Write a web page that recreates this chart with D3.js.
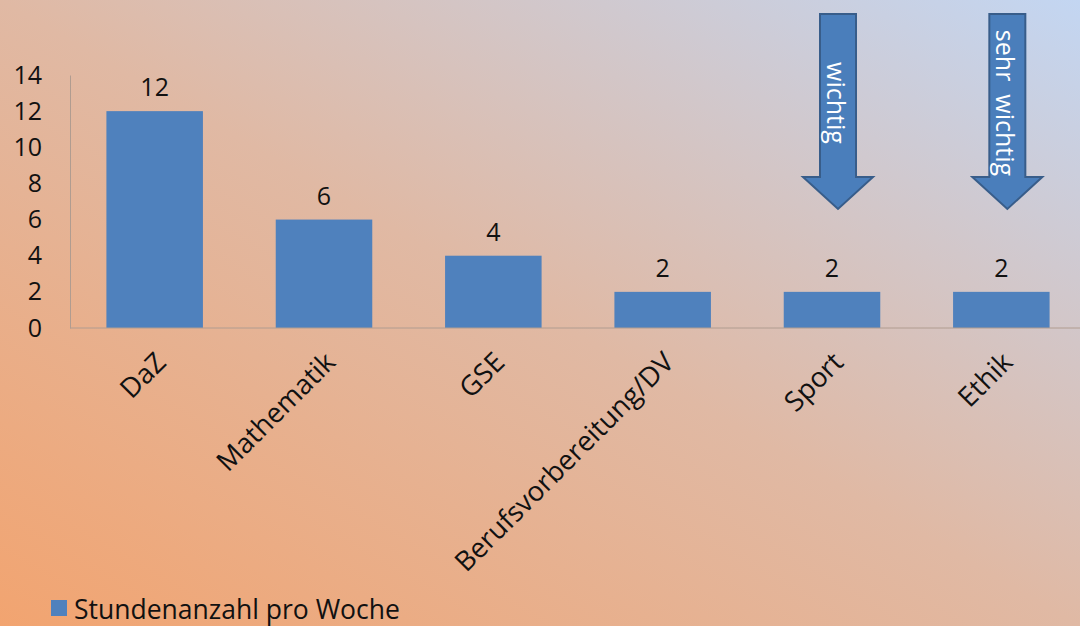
<!DOCTYPE html>
<html><head><meta charset="utf-8">
<script src="https://cdn.jsdelivr.net/npm/d3@7"></script>
<style>html,body{margin:0;padding:0;overflow:hidden}svg{display:block}</style>
</head><body>
<svg id="c" width="1080" height="626"></svg>
<script>
const categories = ["DaZ","Mathematik","GSE","Berufsvorbereitung/DV","Sport","Ethik"];
const values = [12,6,4,2,2,2];
const yTicks = [0,2,4,6,8,10,12,14];
const seriesName = "Stundenanzahl pro Woche";
const arrowNotes = [{cat:"Sport", text:"wichtig"},{cat:"Ethik", text:"sehr  wichtig"}];

const W=1080,H=626;
const svg=d3.select("#c");
const defs=svg.append("defs");
const g=defs.append("linearGradient").attr("id","bg").attr("x1","0").attr("y1","1").attr("x2","1").attr("y2","0");
g.append("stop").attr("offset","0").attr("stop-color","#f2a470");
g.append("stop").attr("offset","0.5").attr("stop-color","#e0b9a4");
g.append("stop").attr("offset","1").attr("stop-color","#c3d6f2");
svg.append("rect").attr("width",W).attr("height",H).attr("fill","url(#bg)");

const font="'Open Sans', sans-serif";
const x=d3.scaleBand().domain(categories).range([70,1086]).paddingInner(0.43).paddingOuter(0.215);
const y=d3.scaleLinear().domain([0,14]).range([328,75]);

const ya=svg.append("g").attr("transform","translate(70,0)").call(d3.axisLeft(y).tickValues(yTicks).tickSize(0).tickPadding(28));
ya.select(".domain").attr("stroke","#b09c90");
ya.selectAll("text").attr("font-family",font).attr("font-size",25).attr("fill","#111");

svg.selectAll("rect.bar").data(values).join("rect").attr("class","bar")
  .attr("x",(d,i)=>x(categories[i])).attr("width",x.bandwidth())
  .attr("y",d=>y(d)).attr("height",d=>y(0)-y(d)).attr("fill","#4f81bd");

const xa=svg.append("g").attr("transform","translate(0,328)").call(d3.axisBottom(x).tickSize(0).tickPadding(0));
xa.select(".domain").attr("stroke","#b09c90").attr("d","M70,0H1080");
xa.selectAll("text").attr("font-family",font).attr("font-size",27.5).attr("fill","#111")
  .attr("text-anchor","end").attr("dy",null).attr("y",0)
  .attr("transform","translate(13,36) rotate(-45)");

svg.selectAll("text.val").data(values).join("text").attr("class","val")
  .attr("x",(d,i)=>x(categories[i])+x.bandwidth()/2).attr("y",d=>y(d)-15)
  .attr("text-anchor","middle").attr("font-family",font).attr("font-size",25).attr("fill","#111")
  .text(d=>d);

arrowNotes.forEach(a=>{
  const cx=x(a.cat)+x.bandwidth()/2+6;
  const sw=18, hw=35, top=14, neck=177, tip=209;
  svg.append("path").attr("d",`M${cx-sw},${top}H${cx+sw}V${neck}H${cx+hw}L${cx},${tip}L${cx-hw},${neck}H${cx-sw}Z`)
    .attr("fill","#4a7ebb").attr("stroke","#385d8a").attr("stroke-width",2);
  svg.append("text").attr("transform",`translate(${cx-11},103) rotate(90)`)
    .attr("text-anchor","middle")
    .attr("font-family",font).attr("font-size",25).attr("fill","#fff")
    .style("white-space","pre").text(a.text);
});

svg.append("rect").attr("x",51).attr("y",600).attr("width",16).attr("height",16).attr("fill","#4f81bd");
svg.append("text").attr("x",74).attr("y",619).attr("font-family",font).attr("font-size",26.5).attr("fill","#111").text(seriesName);
</script>
</body></html>
